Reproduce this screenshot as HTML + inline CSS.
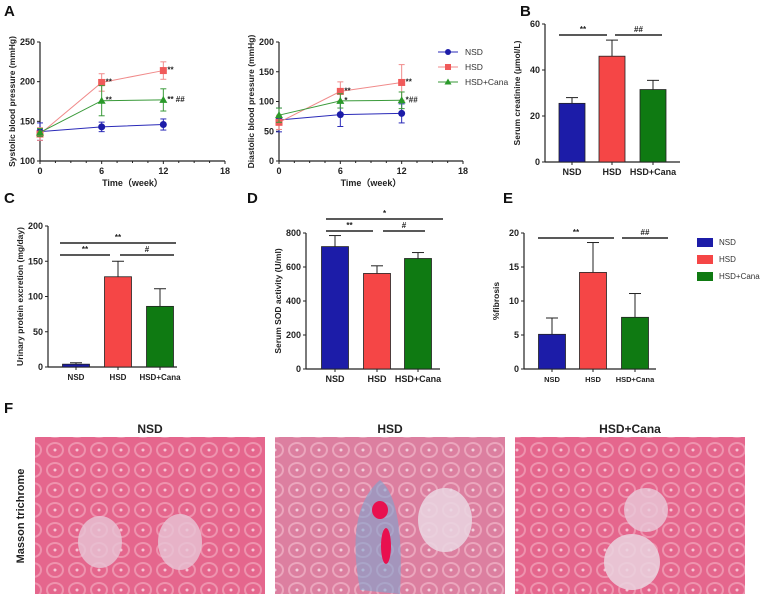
<!DOCTYPE html>
<html><head><meta charset="utf-8"><style>
body{margin:0;background:#fff;}
svg{display:block;font-family:"Liberation Sans",Arial,sans-serif;}
.t{font-size:9px;font-weight:bold;fill:#222;}
.pl{font-size:15px;font-weight:bold;fill:#111;}
</style></head><body>
<svg id="fig" width="780" height="601" viewBox="0 0 780 601">
<defs>
<pattern id="tub" width="22" height="20" patternUnits="userSpaceOnUse">
<rect width="22" height="20" fill="#e5668d"/>
<ellipse cx="11" cy="10" rx="8" ry="7" fill="none" stroke="#ee93ae" stroke-width="2"/>
<circle cx="11" cy="10" r="1.5" fill="#f6c4d4"/>
</pattern>
<pattern id="tub2" width="22" height="20" patternUnits="userSpaceOnUse">
<rect width="22" height="20" fill="#dc7fa0"/>
<ellipse cx="11" cy="10" rx="8" ry="7" fill="none" stroke="#eba6bd" stroke-width="2"/>
<circle cx="11" cy="10" r="1.5" fill="#f2cfdc"/>
</pattern>
</defs>
<text class="pl" x="4" y="16">A</text>
<text class="pl" x="520" y="16">B</text>
<text class="pl" x="4" y="203">C</text>
<text class="pl" x="247" y="203">D</text>
<text class="pl" x="503" y="203">E</text>
<text class="pl" x="4" y="413">F</text>
<g id="charts"></g>
<g id="histo">
<text class="t" x="150" y="433" text-anchor="middle" style="font-size:12px">NSD</text>
<text class="t" x="390" y="433" text-anchor="middle" style="font-size:12px">HSD</text>
<text class="t" x="630" y="433" text-anchor="middle" style="font-size:12px">HSD+Cana</text>
<text class="t" transform="translate(24,516) rotate(-90)" text-anchor="middle" style="font-size:11px">Masson trichrome</text>
<rect x="35" y="437" width="230" height="157" fill="url(#tub)"/>
<ellipse cx="100" cy="542" rx="22" ry="26" fill="#e7c6d6" opacity="0.8"/>
<ellipse cx="180" cy="542" rx="22" ry="28" fill="#e7c6d6" opacity="0.8"/>
<rect x="275" y="437" width="230" height="157" fill="url(#tub2)"/>
<path d="M360 590 Q345 510 380 480 Q405 500 400 594 Z" fill="#7fa3cf" opacity="0.6"/>
<ellipse cx="380" cy="510" rx="8" ry="9" fill="#e8104f"/>
<ellipse cx="386" cy="546" rx="5" ry="18" fill="#e8104f"/>
<ellipse cx="445" cy="520" rx="27" ry="32" fill="#ead6e2" opacity="0.85"/>
<rect x="515" y="437" width="230" height="157" fill="url(#tub)"/>
<ellipse cx="646" cy="510" rx="22" ry="22" fill="#e9cbd9" opacity="0.8"/>
<ellipse cx="632" cy="562" rx="28" ry="28" fill="#ead3df" opacity="0.85"/>
</g>
</svg>
<script>
const weeks=[0,6,12];
const xTicksA=[0,6,12,18];
const sysNSD=[137,143,146], sysHSD=[134,199,214], sysCana=[136,176,177];
const sysNSDerr=[11,6,7], sysHSDerr=[8,11,11], sysCanaErr=[5,19,14];
const yTicksSys=[100,150,200,250];
const diaNSD=[69,78,80], diaHSD=[65,117,132], diaCana=[77,101,102];
const diaNSDerr=[20,20,16], diaHSDerr=[12,16,30], diaCanaErr=[12,12,14];
const yTicksDia=[0,50,100,150,200];
const groups=["NSD","HSD","HSD+Cana"];
const creat=[25.5,46,31.5], creatErr=[2.5,7,4], yTicksB=[0,20,40,60];
const urine=[4,128,86], urineErr=[2,22,25], yTicksC=[0,50,100,150,200];
const sod=[720,562,650], sodErr=[65,45,35], yTicksD=[0,200,400,600,800];
const fib=[5.1,14.2,7.6], fibErr=[2.4,4.4,3.5], yTicksE=[0,5,10,15,20];

const NS="http://www.w3.org/2000/svg";
const root=document.getElementById('charts');
function mk(tag,attrs,parent,txt){const e=document.createElementNS(NS,tag);for(const k in attrs)e.setAttribute(k,attrs[k]);if(txt!==undefined)e.textContent=txt;(parent||root).appendChild(e);return e;}
const COL={NSD:"#1c1ca8",HSD:"#f54646",Cana:"#0f7a12"};
const LCOL={NSD:"#2a2ab8",HSD:"#f08a8a",Cana:"#3a9a3a"};

function axes(g,x0,x1,y0,y1,ymin,ymax,yt,title){
  const sy=v=>y0-(v-ymin)/(ymax-ymin)*(y0-y1);
  mk('line',{x1:x0,y1:y0+0.5,x2:x0,y2:y1,stroke:'#222','stroke-width':1.2},g);
  mk('line',{x1:x0,y1:y0,x2:x1,y2:y0,stroke:'#222','stroke-width':1.2},g);
  yt.forEach(v=>{mk('line',{x1:x0-3,y1:sy(v),x2:x0,y2:sy(v),stroke:'#222'},g);
    const t=mk('text',{x:x0-5,y:sy(v)+3,'text-anchor':'end',class:'t'},g,v);
    
    });
  const tt=mk('text',{transform:`translate(${x0-25},${(y0+y1)/2}) rotate(-90)`,'text-anchor':'middle',class:'t',style:'font-size:8.5px'},g,title);
  
  
  return sy;
}

function lineChart(name,x0,x1,y0,y1,ymin,ymax,yt,title,series,stars){
  const g=mk('g',{});
  
  
  const sy=axes(g,x0,x1,y0,y1,ymin,ymax,yt,title);
  const sx=v=>x0+v/18*(x1-x0);
  xTicksA.forEach(v=>{mk('line',{x1:sx(v),y1:y0,x2:sx(v),y2:y0+3,stroke:'#222'},g);
    const t=mk('text',{x:sx(v),y:y0+13,'text-anchor':'middle',class:'t'},g,v);
    
    });
  for(let v=1.5;v<18;v+=1.5){if(v%6)mk('line',{x1:sx(v),y1:y0,x2:sx(v),y2:y0+2,stroke:'#222'},g);}
  const xt=mk('text',{x:(x0+x1)/2,y:y0+25,'text-anchor':'middle',class:'t'},g,'Time\uFF08week\uFF09');
  
  
  series.forEach(s=>{
    const pts=weeks.map((w,i)=>sx(w)+','+sy(s.v[i])).join(' ');
    const pl=mk('polyline',{points:pts,fill:'none',stroke:LCOL[s.k],'stroke-width':1},g);
    
    
    weeks.forEach((w,i)=>{
      const x=sx(w),a=sy(s.v[i]+s.e[i]),b=sy(s.v[i]-s.e[i]);
      mk('line',{x1:x,y1:a,x2:x,y2:b,stroke:LCOL[s.k]},g);
      mk('line',{x1:x-3,y1:a,x2:x+3,y2:a,stroke:LCOL[s.k]},g);
      mk('line',{x1:x-3,y1:b,x2:x+3,y2:b,stroke:LCOL[s.k]},g);
      let m;
      if(s.k==='NSD')m=mk('circle',{cx:x,cy:sy(s.v[i]),r:3.5,fill:COL.NSD},g);
      else if(s.k==='HSD')m=mk('rect',{x:x-3.5,y:sy(s.v[i])-3.5,width:7,height:7,fill:'#f05a5a'},g);
      else m=mk('path',{d:`M${x},${sy(s.v[i])-4}L${x+4},${sy(s.v[i])+3}L${x-4},${sy(s.v[i])+3}Z`,fill:'#2a9a2a'},g);
      
      
      if(i>0&&stars[s.k]){const st=mk('text',{x:x+4,y:sy(s.v[i])+2,class:'t',style:'font-size:8px'},g,stars[s.k][i-1]);
        
        }
    });
  });
}
lineChart('systolic-chart',40,225,161,42,100,250,yTicksSys,'Systolic blood pressure (mmHg)',
 [{k:'NSD',v:sysNSD,e:sysNSDerr},{k:'HSD',v:sysHSD,e:sysHSDerr},{k:'Cana',v:sysCana,e:sysCanaErr}],
 {HSD:['**','**'],Cana:['**','** ##']});
lineChart('diastolic-chart',279,463,161,42,0,200,yTicksDia,'Diastolic blood pressure (mmHg)',
 [{k:'NSD',v:diaNSD,e:diaNSDerr},{k:'HSD',v:diaHSD,e:diaHSDerr},{k:'Cana',v:diaCana,e:diaCanaErr}],
 {HSD:['**','**'],Cana:['*','*##']});

const lg=mk('g',{});


[['NSD','NSD'],['HSD','HSD'],['Cana','HSD+Cana']].forEach((p,i)=>{
  const y=52+i*15;
  mk('line',{x1:438,y1:y,x2:458,y2:y,stroke:LCOL[p[0]]},lg);
  if(i==0)mk('circle',{cx:448,cy:y,r:3,fill:COL.NSD},lg);
  else if(i==1)mk('rect',{x:445,y:y-3,width:6,height:6,fill:'#f05a5a'},lg);
  else mk('path',{d:`M448,${y-3.5}L451.5,${y+2.5}L444.5,${y+2.5}Z`,fill:'#2a9a2a'},lg);
  const t=mk('text',{x:465,y:y+3,'font-size':8.5,fill:'#333'},lg,p[1]);
  
  
});

function barChart(name,x0,x1,y0,y1,ymax,yt,title,vals,errs,centers,w,sig,fs){
  const g=mk('g',{});
  
  
  const sy=axes(g,x0,x1,y0,y1,0,ymax,yt,title);
  const cols=[COL.NSD,COL.HSD,COL.Cana];
  vals.forEach((v,i)=>{
    const c=centers[i];
    const top=sy(v+errs[i]);
    mk('line',{x1:c,y1:sy(v),x2:c,y2:top,stroke:'#222'},g);
    mk('line',{x1:c-6,y1:top,x2:c+6,y2:top,stroke:'#222'},g);
    const r=mk('rect',{x:c-w/2,y:sy(v),width:w,height:y0-sy(v),fill:cols[i],stroke:'#222','stroke-width':0.8},g);
    
    
    mk('line',{x1:c,y1:y0,x2:c,y2:y0+3,stroke:'#222'},g);
    const t=mk('text',{x:c,y:y0+13,'text-anchor':'middle',class:'t',style:'font-size:'+fs+'px'},g,groups[i]);
    
    
  });
  sig.forEach(s=>{
    mk('line',{x1:s[0],y1:s[2],x2:s[1],y2:s[2],stroke:'#222','stroke-width':1.5},g);
    const t=mk('text',{x:(s[0]+s[1])/2,y:s[2]-3,'text-anchor':'middle',class:'t',style:'font-size:8px'},g,s[3]);
    
    
  });
}
barChart('creatinine-chart',545,680,162,24,60,yTicksB,'Serum creatinine (\u03bcmol/L)',creat,creatErr,[572,612,653],26,
 [[559,607,35,'**'],[615,662,35,'##']],9);
barChart('urinary-protein-chart',48,177,367,226,200,yTicksC,'Urinary protein excretion (mg/day)',urine,urineErr,[76,118,160],27,
 [[60,176,243,'**'],[60,110,255,'**'],[120,174,255,'#']],8);
barChart('sod-chart',306,440,369,233,800,yTicksD,'Serum SOD activity (U/ml)',sod,sodErr,[335,377,418],27,
 [[326,443,219,'*'],[326,373,231,'**'],[383,425,231,'#']],9);
barChart('fibrosis-chart',524,656,369,233,20,yTicksE,'%fibrosis',fib,fibErr,[552,593,635],27,
 [[538,614,238,'**'],[622,668,238,'##']],7.5);

const bl=mk('g',{});


[[COL.NSD,'NSD'],[COL.HSD,'HSD'],[COL.Cana,'HSD+Cana']].forEach((p,i)=>{
  const y=242+i*17;
  mk('rect',{x:697,y:y-4,width:16,height:9,fill:p[0]},bl);
  const t=mk('text',{x:719,y:y+3,'font-size':8,fill:'#333'},bl,p[1]);
  
  
});
</script>
</body></html>
